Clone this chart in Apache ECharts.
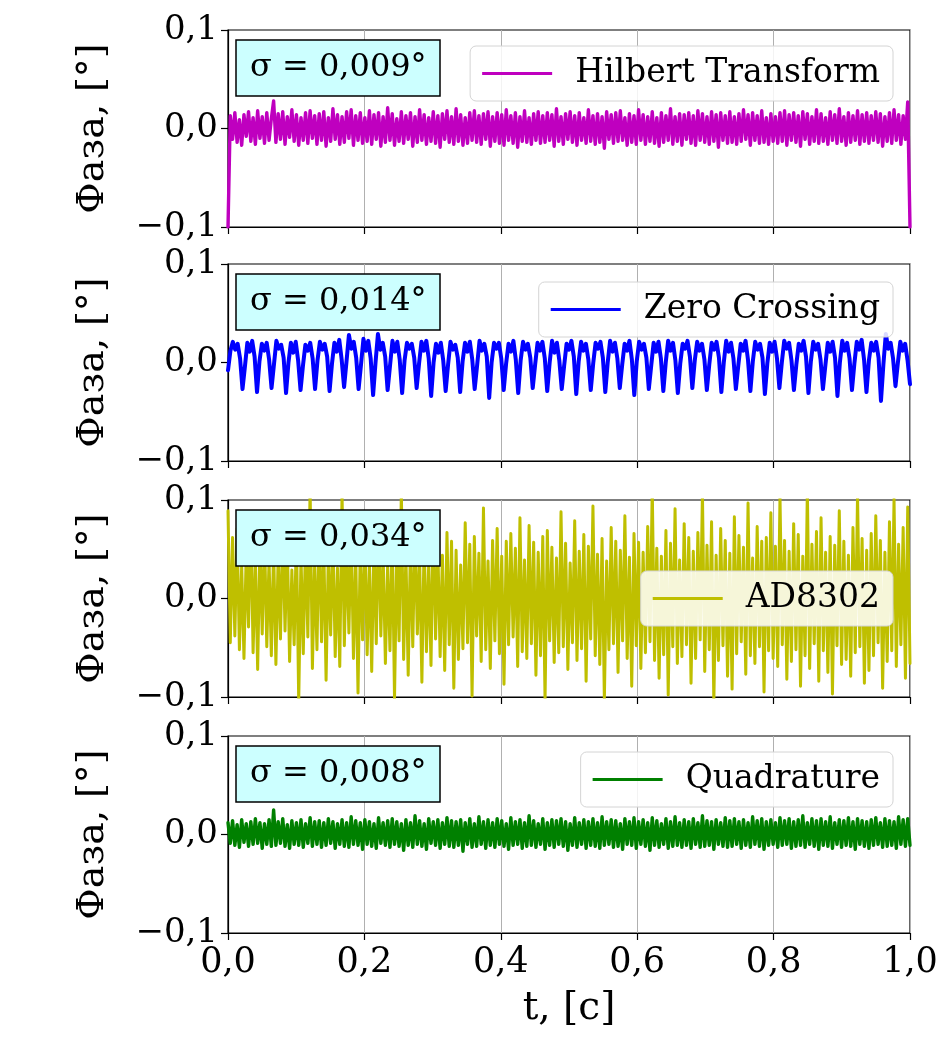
<!DOCTYPE html>
<html>
<head>
<meta charset="utf-8">
<script src="https://cdn.jsdelivr.net/npm/echarts@6/dist/echarts.min.js"></script>
<style>html,body{margin:0;padding:0;background:#fff;}#c{width:944px;height:1059px;}</style>
</head>
<body>
<div id="c"></div>
<script>
// ---------- data (phase, degrees) ----------
const seriesNames = ['Hilbert Transform', 'Zero Crossing', 'AD8302', 'Quadrature'];
const sigmaLabels = ['σ = 0,009°', 'σ = 0,014°', 'σ = 0,034°', 'σ = 0,008°'];
const xTicks = [0, 0.2, 0.4, 0.6, 0.8, 1.0];
const yTicks = [-0.1, 0, 0.1];

const hilbert = [
-.1,.013,-.011,.016,-.014,.009,-.017,.014,-.008,.017,-.013,.011,-.016,.018,-.010,.012,-.015,.016,-.012,.010,
.028,-.014,.015,-.011,.017,-.016,.012,-.009,.019,-.013,.014,-.017,.011,-.012,.016,-.015,.018,-.010,.013,-.016,
.015,-.012,.017,-.018,.011,-.013,.020,-.011,.014,-.016,.012,-.014,.017,-.010,.019,-.017,.013,-.012,.016,-.015,
.011,-.013,.018,-.016,.014,-.011,.016,-.018,.012,-.014,.021,-.012,.015,-.017,.010,-.013,.017,-.015,.013,-.011,
.016,-.018,.012,-.014,.019,-.012,.014,-.016,.011,-.013,.017,-.015,.013,-.019,.015,-.011,.018,-.014,.012,-.016,
.020,-.013,.014,-.017,.011,-.015,.016,-.012,.018,-.014,.013,-.016,.015,-.011,.017,-.018,.012,-.013,.016,-.015,
.014,-.017,.019,-.012,.013,-.015,.016,-.019,.012,-.013,.018,-.014,.011,-.016,.015,-.012,.017,-.015,.013,-.014,
.016,-.012,.014,-.018,.020,-.013,.012,-.016,.015,-.011,.017,-.014,.013,-.017,.016,-.012,.011,-.015,.019,-.013,
.013,-.016,.015,-.014,.012,-.020,.017,-.011,.014,-.015,.016,-.013,.018,-.012,.011,-.017,.015,-.014,.013,-.016,
.019,-.012,.014,-.016,.012,-.013,.017,-.015,.011,-.018,.016,-.014,.013,-.012,.020,-.016,.012,-.013,.015,-.017,
.014,-.011,.016,-.015,.013,-.017,.018,-.012,.015,-.014,.012,-.016,.017,-.013,.014,-.019,.016,-.012,.013,-.015,
.017,-.014,.012,-.016,.015,-.013,.019,-.011,.014,-.017,.016,-.012,.013,-.015,.018,-.014,.011,-.016,.015,-.013,
.012,-.015,.016,-.013,.018,-.017,.014,-.012,.016,-.014,.013,-.018,.017,-.011,.015,-.016,.012,-.013,.019,-.015,
.015,-.013,.011,-.016,.017,-.012,.014,-.015,.020,-.013,.012,-.017,.016,-.014,.013,-.012,.018,-.016,.014,-.013,
.016,-.015,.013,-.012,.017,-.014,.015,-.018,.012,-.013,.016,-.015,.019,-.012,.014,-.016,.013,-.011,.027,-.1
];

const zeroCrossing = [
-.008,
.012,.021,.013,.019,.004,-.027,  -.004,.020,.011,.022,.006,-.030,  .001,.019,.012,.020,.003,-.026,
-.002,.022,.014,.018,.005,-.031,  .000,.020,.010,.021,.002,-.028,  -.003,.018,.012,.020,.004,-.027,
.002,.021,.013,.019,.006,-.029,  -.001,.020,.011,.023,.003,-.025,  .001,.028,.014,.021,.005,-.027,
-.002,.024,.012,.022,.004,-.033,  .000,.029,.013,.020,.006,-.028,  -.003,.022,.011,.021,.003,-.031,
.002,.020,.014,.019,.005,-.026,  -.001,.021,.012,.022,.004,-.034,  .000,.019,.010,.020,.002,-.029,
-.002,.021,.013,.018,.005,-.030,  .001,.020,.011,.021,.003,-.027,  -.003,.022,.012,.019,.006,-.036,
.000,.020,.014,.020,.004,-.028,  -.001,.019,.011,.022,.003,-.031,  .002,.021,.013,.019,.005,-.026,
-.002,.020,.012,.021,.004,-.029,  .000,.022,.010,.020,.002,-.027,  -.003,.019,.013,.022,.006,-.032,
.001,.021,.012,.019,.003,-.028,  -.001,.020,.014,.021,.005,-.030,  .000,.022,.011,.020,.004,-.026,
-.002,.019,.012,.022,.003,-.033,  .001,.021,.013,.019,.005,-.027,  -.003,.020,.011,.021,.004,-.029,
.000,.022,.012,.020,.002,-.031,  -.001,.019,.014,.022,.006,-.026,  .002,.021,.012,.019,.003,-.028,
-.002,.020,.013,.021,.005,-.030,  .000,.022,.011,.020,.004,-.027,  -.003,.019,.012,.022,.003,-.029,
.001,.021,.013,.019,.005,-.032,  -.001,.020,.011,.021,.004,-.026,  .000,.022,.014,.020,.002,-.028,
-.002,.019,.012,.022,.006,-.031,  .001,.021,.013,.019,.003,-.027,  -.003,.020,.011,.021,.005,-.034,
.000,.022,.012,.020,.004,-.028,  -.001,.021,.013,.023,.003,-.030,  .002,.020,.012,.021,.005,-.039,
-.002,.029,.014,.020,.004,-.024,  .000,.021,.012,.019,.002,-.022
];

const ad8302 = [
.089,-.045,.062,-.038,.071,-.052,.034,-.061,.048,-.029,.083,-.055,.041,-.072,.057,-.036,.066,-.049,.039,-.058,
.052,-.067,.045,-.041,.074,-.033,.058,-.064,.029,-.047,.068,-.105,.043,-.056,.061,-.039,.112,-.071,.036,-.052,
.078,-.044,.054,-.083,.047,-.037,.065,-.059,.031,-.069,.107,-.048,.057,-.035,.072,-.061,.044,-.096,.053,-.042,
.064,-.057,.039,-.074,.059,-.046,.081,-.038,.048,-.066,.035,-.053,.069,-.102,.051,-.043,.109,-.062,.045,-.078,
.056,-.049,.073,-.036,.042,-.085,.061,-.054,.037,-.068,.086,-.041,.052,-.059,.044,-.073,.067,-.047,.058,-.091,
.049,-.062,.034,-.051,.077,-.045,.055,-.099,.063,-.038,.046,-.064,.092,-.052,.038,-.071,.059,-.043,.071,-.056,
.043,-.087,.058,-.047,.066,-.039,.051,-.069,.082,-.054,.039,-.061,.074,-.046,.057,-.078,.047,-.058,.063,-.104,
.069,-.043,.052,-.065,.041,-.055,.088,-.049,.056,-.072,.036,-.045,.079,-.063,.048,-.051,.065,-.084,.053,-.041,
.094,-.058,.045,-.067,.061,-.103,.038,-.052,.072,-.046,.058,-.075,.049,-.043,.084,-.061,.042,-.089,.066,-.048,
.057,-.071,.047,-.055,.073,-.044,.113,-.063,.051,-.081,.043,-.057,.069,-.098,.056,-.049,.091,-.066,.039,-.059,
.076,-.047,.062,-.086,.048,-.061,.067,-.042,.108,-.074,.054,-.052,.078,-.106,.044,-.063,.071,-.048,.059,-.079,
.046,-.092,.083,-.056,.064,-.044,.052,-.077,.097,-.058,.041,-.066,.073,-.049,.058,-.095,.062,-.053,.087,-.061,
.053,-.069,.104,-.047,.059,-.082,.048,-.064,.076,-.052,.065,-.089,.043,-.058,.111,-.071,.055,-.046,.068,-.084,
.082,-.053,.047,-.075,.063,-.097,.054,-.048,.089,-.067,.058,-.062,.044,-.079,.072,-.055,.105,-.049,.061,-.086,
.049,-.073,.066,-.058,.084,-.045,.059,-.091,.047,-.064,.078,-.053,.101,-.069,.055,-.047,.072,-.081,.093,-.066
];

const quadrature = [
.012,-.009,.014,-.011,.010,-.013,.015,-.008,.011,-.012,.013,-.010,.016,-.009,.012,-.014,.011,-.010,.015,-.012,
.025,-.011,.013,-.009,.016,-.012,.010,-.014,.014,-.010,.012,-.011,.015,-.013,.011,-.009,.017,-.012,.013,-.010,
.014,-.013,.012,-.011,.016,-.009,.013,-.014,.011,-.010,.015,-.012,.012,-.013,.018,-.010,.014,-.011,.012,-.015,
.015,-.010,.013,-.012,.011,-.014,.017,-.009,.012,-.011,.014,-.013,.016,-.010,.013,-.012,.011,-.016,.015,-.011,
.012,-.013,.019,-.010,.014,-.012,.011,-.015,.016,-.009,.013,-.011,.015,-.014,.012,-.010,.017,-.012,.014,-.013,
.013,-.011,.015,-.017,.012,-.010,.016,-.013,.011,-.012,.018,-.010,.013,-.014,.015,-.011,.012,-.013,.016,-.010,
.014,-.012,.011,-.015,.017,-.011,.013,-.010,.015,-.014,.012,-.012,.019,-.011,.014,-.013,.011,-.010,.016,-.015,
.012,-.011,.015,-.013,.014,-.010,.016,-.012,.013,-.016,.011,-.011,.017,-.013,.012,-.010,.015,-.014,.013,-.011,
.016,-.012,.012,-.014,.018,-.011,.013,-.010,.015,-.013,.014,-.012,.011,-.015,.016,-.010,.013,-.011,.017,-.014,
.013,-.010,.015,-.012,.012,-.016,.017,-.011,.014,-.013,.011,-.010,.016,-.014,.013,-.012,.018,-.011,.012,-.013,
.015,-.011,.013,-.014,.016,-.010,.012,-.013,.019,-.012,.014,-.011,.013,-.015,.015,-.010,.012,-.012,.017,-.013,
.014,-.012,.016,-.010,.013,-.014,.015,-.011,.012,-.013,.018,-.010,.014,-.012,.016,-.015,.013,-.011,.015,-.010,
.012,-.013,.017,-.011,.014,-.010,.016,-.014,.013,-.012,.015,-.011,.019,-.013,.012,-.010,.016,-.012,.014,-.015,
.016,-.011,.013,-.012,.018,-.014,.012,-.010,.015,-.013,.014,-.011,.017,-.012,.013,-.015,.016,-.010,.014,-.012,
.013,-.014,.015,-.011,.017,-.010,.012,-.013,.016,-.012,.014,-.011,.013,-.014,.018,-.010,.015,-.012,.016,-.011
];

const allValues = [hilbert, zeroCrossing, ad8302, quadrature];
const colors = ['#bf00bf', '#0000ff', '#bfbf00', '#008000'];
const lineWidths = [3.4, 4, 3, 3.4];

// ---------- layout ----------
const FONT = 'DejaVu Serif';
const gridTops = [30, 264, 500, 736];
const gridH = 197;
const legendPos = [{right: 51, top: 46}, {right: 51, top: 282}, {right: 51, top: 571}, {right: 51, top: 752}];

function fmt(v) {
  const s = Math.abs(v).toFixed(1).replace('.', ',');
  return (v < -1e-9 ? '\u2212' : '') + s;
}

const grids = [], xAxes = [], yAxes = [], series = [], legends = [], titles = [];
for (let i = 0; i < 4; i++) {
  grids.push({left: 228, right: 34, top: gridTops[i], height: gridH, show: true,
    borderColor: '#000', borderWidth: 1.2, backgroundColor: 'transparent'});
  xAxes.push({
    type: 'value', gridIndex: i, min: xTicks[0], max: xTicks[xTicks.length - 1], interval: 0.2,
    axisLine: {show: true, onZero: false, lineStyle: {color: '#000', width: 1.2}},
    axisTick: {show: true, inside: false, length: 7, lineStyle: {color: '#000', width: 1.2}},
    axisLabel: {show: i === 3, formatter: fmt, fontFamily: FONT, fontSize: 35, color: '#000', margin: 12},
    splitLine: {show: true, lineStyle: {color: '#b0b0b0', width: 1}},
    name: i === 3 ? 't, [c]' : '', nameLocation: 'middle', nameGap: 56,
    nameTextStyle: {fontFamily: FONT, fontSize: 39, color: '#000'}
  });
  yAxes.push({
    type: 'value', gridIndex: i, min: yTicks[0], max: yTicks[yTicks.length - 1], interval: 0.1,
    axisLine: {show: true, lineStyle: {color: '#000', width: 1.2}},
    axisTick: {show: true, inside: false, length: 7, lineStyle: {color: '#000', width: 1.2}},
    axisLabel: {formatter: fmt, fontFamily: FONT, fontSize: 34, color: '#000', margin: 10},
    splitLine: {show: false},
    name: 'Фаза, [°]', nameLocation: 'middle', nameRotate: 90, nameGap: 116,
    nameTextStyle: {fontFamily: FONT, fontSize: 38, color: '#000'}
  });
  const vals = allValues[i];
  const n = vals.length;
  series.push({
    name: seriesNames[i], type: 'line', xAxisIndex: i, yAxisIndex: i,
    data: vals.map((v, k) => [k / (n - 1), v]),
    showSymbol: false, symbol: 'none', clip: true,
    lineStyle: {color: colors[i], width: lineWidths[i], join: 'round', cap: 'round'}, itemStyle: {color: colors[i]},
    emphasis: {disabled: true}
  });
  legends.push({
    data: [{name: seriesNames[i], icon: 'rect'}], right: legendPos[i].right, top: legendPos[i].top,
    orient: 'horizontal', padding: [11, 13, 11, 12], itemWidth: 70, itemHeight: 3,
    backgroundColor: 'rgba(255,255,255,0.85)', borderColor: '#d4d4d4', borderWidth: 1, borderRadius: 6,
    textStyle: {fontFamily: FONT, fontSize: 33, color: '#000', padding: [0, 0, 0, 18]},
    selectedMode: false
  });
  titles.push({
    text: sigmaLabels[i], left: 236, top: gridTops[i] + 10,
    backgroundColor: '#ccffff', borderColor: '#000', borderWidth: 1.5,
    padding: [10, 14, 10, 14],
    textStyle: {fontFamily: FONT, fontSize: 32, fontWeight: 'normal', color: '#000', lineHeight: 36}
  });
}

const chart = echarts.init(document.getElementById('c'), null, {renderer: 'canvas'});
chart.setOption({
  animation: false,
  backgroundColor: '#fff',
  title: titles,
  legend: legends,
  grid: grids,
  xAxis: xAxes,
  yAxis: yAxes,
  series: series
});
</script>
</body>
</html>
